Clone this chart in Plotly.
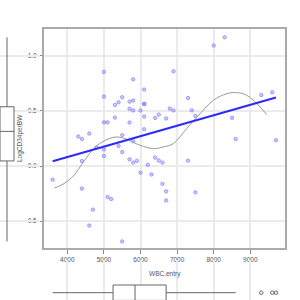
import numpy as np
import plotly.graph_objects as go

# ---- data ----
wbc_entry = [5000, 5800, 6100, 6900, 8000, 8300, 5000, 5300, 5400, 5500,
             5700, 5800, 6100, 6100, 7300, 9300, 9600, 5300, 5700, 5800,
             6000, 6100, 6400, 6500, 6700, 6800, 6900, 7400, 7500, 8500,
             5000, 5100, 5700, 6100, 4300, 4400, 4600, 5500, 5800, 4800,
             5000, 5400, 5500, 5000, 4400, 5700, 5800, 5900, 6000, 6200,
             6300, 6400, 6500, 6600, 7300, 6600, 6700, 6700, 7500, 3600,
             4400, 5100, 5200, 4700, 4600, 5500, 8600, 9700]
log_cd34_per_bw = [0.855, 0.788, 0.695, 0.861, 1.095, 1.170, 0.631, 0.555, 0.579, 0.625,
                   0.585, 0.595, 0.564, 0.564, 0.618, 0.645, 0.670, 0.440, 0.520, 0.505,
                   0.505, 0.450, 0.436, 0.467, 0.432, 0.522, 0.505, 0.506, 0.455, 0.438,
                   0.397, 0.397, 0.395, 0.334, 0.268, 0.245, 0.295, 0.281, 0.225, 0.170,
                   0.152, 0.182, 0.127, 0.091, 0.045, 0.061, 0.031, 0.047, -0.060, 0.011,
                   -0.077, 0.076, 0.050, 0.031, 0.049, -0.162, -0.230, -0.312, -0.239, -0.124,
                   -0.205, -0.282, -0.300, -0.396, -0.541, -0.685, 0.245, 0.234]

# smoother (loess) curve
smooth_x = [3650, 3910, 4180, 4410, 4640, 4820, 5080, 5350, 5620, 5990,
            6350, 6620, 6900, 7260, 7630, 7990, 8360, 8630, 8900, 9180, 9450]
smooth_y = [-0.20, -0.16, -0.085, 0.022, 0.127, 0.188, 0.240, 0.264, 0.243, 0.188,
            0.158, 0.173, 0.204, 0.340, 0.476, 0.597, 0.658, 0.667, 0.643, 0.567, 0.467]

x_ticks = [4000, 5000, 6000, 7000, 8000, 9000]
y_ticks = [-0.5, 0.0, 0.5, 1.0]
x_label = "WBC.entry"
y_label = "LogCD34perBW"

# ---- figure ----
W = H = 300
xa = np.array(wbc_entry, dtype=float)
ya = np.array(log_cd34_per_bw, dtype=float)
slope, intercept = np.polyfit(xa, ya, 1)
fit_x = np.array([xa.min(), xa.max()])
fit_y = intercept + slope * fit_x

tick_font = dict(family="Liberation Sans, Arial", size=6.5, color="#555555")
box_line = "#666666"

fig = go.Figure()

# scatter points
fig.add_trace(go.Scatter(
    x=wbc_entry, y=log_cd34_per_bw, mode="markers",
    marker=dict(symbol="circle", size=3.4, color="rgba(130,130,255,0.4)",
                line=dict(color="rgba(100,100,255,0.7)", width=0.8)),
    xaxis="x", yaxis="y", showlegend=False, hoverinfo="skip"))

# smoother
fig.add_trace(go.Scatter(
    x=smooth_x, y=smooth_y, mode="lines", line=dict(color="#999999", width=1, shape="spline"),
    xaxis="x", yaxis="y", showlegend=False, hoverinfo="skip"))

# linear fit
fig.add_trace(go.Scatter(
    x=fit_x, y=fit_y, mode="lines", line=dict(color="#2a2aff", width=2),
    xaxis="x", yaxis="y", showlegend=False, hoverinfo="skip"))

# left marginal boxplot (y variable)
fig.add_trace(go.Box(
    y=log_cd34_per_bw, x0=7, width=14, xaxis="x2", yaxis="y",
    boxpoints="outliers", quartilemethod="inclusive", whiskerwidth=0,
    fillcolor="white", line=dict(color=box_line, width=1),
    marker=dict(symbol="circle-open", size=3.5, color=box_line, line=dict(width=1)),
    showlegend=False, hoverinfo="skip"))

# bottom marginal boxplot (x variable)
fig.add_trace(go.Box(
    x=wbc_entry, y0=7.3, width=15.4, orientation="h", xaxis="x", yaxis="y3",
    boxpoints="outliers", quartilemethod="inclusive", whiskerwidth=0,
    fillcolor="white", line=dict(color=box_line, width=1),
    marker=dict(symbol="circle-open", size=3.5, color=box_line, line=dict(width=1)),
    showlegend=False, hoverinfo="skip"))

axis_common = dict(showline=True, linecolor="#aaaaaa", linewidth=2, mirror=True,
                   showgrid=True, gridcolor="#ebebeb", gridwidth=1.5, zeroline=False,
                   ticks="outside", ticklen=4, tickwidth=1, tickcolor="#888888",
                   tickfont=tick_font)

fig.update_layout(
    width=W, height=H, margin=dict(l=0, r=0, t=0, b=0),
    paper_bgcolor="white", plot_bgcolor="white",
    xaxis=dict(domain=[44 / W, 285 / W], range=[3363, 9948], tickvals=x_ticks,
               ticktext=[str(v) for v in x_ticks], anchor="y", **axis_common),
    yaxis=dict(domain=[1 - 248 / H, 1 - 29 / H], range=[-0.745, 1.245], tickvals=y_ticks,
               ticktext=["-0.5", "0.0", "0.5", "1.0"], anchor="x", **axis_common),
    xaxis2=dict(domain=[0, 40 / W], range=[0, 40], visible=False, anchor="y"),
    yaxis3=dict(domain=[0, 40 / H], range=[0, 40], visible=False, anchor="x"),
    annotations=[
        dict(text=x_label, xref="paper", yref="paper", x=164.5 / W, y=1 - 274 / H,
             showarrow=False, font=dict(family="Liberation Sans, Arial", size=6.5, color="#555555"),
             xanchor="center", yanchor="middle"),
        dict(text=y_label, xref="paper", yref="paper", x=19.5 / W, y=1 - 138.5 / H,
             showarrow=False, textangle=-90,
             font=dict(family="Liberation Sans, Arial", size=6.5, color="#555555"),
             xanchor="center", yanchor="middle"),
    ],
)

fig.write_html("out.html")
